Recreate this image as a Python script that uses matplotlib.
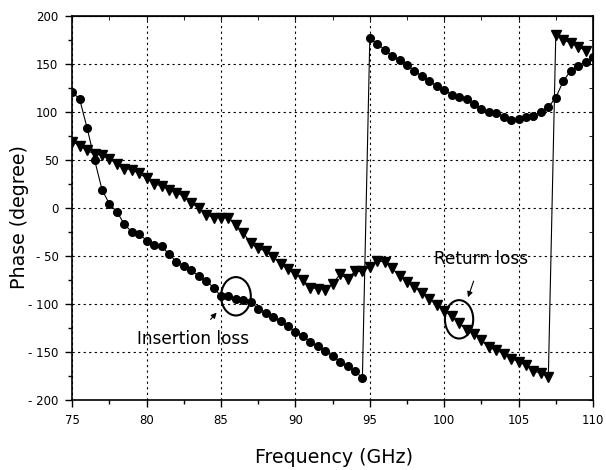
import matplotlib
matplotlib.use("Agg")
import matplotlib.pyplot as plt
import numpy as np
from matplotlib.patches import Ellipse

plt.rcParams["font.family"] = ["DejaVu Sans"]

# frequency points, 0.5 GHz step
freq = [75 + 0.5 * i for i in range(71)]

insertion_loss = [
    121, 113, 83, 50, 19, 4, -4, -17, -25, -27,
    -34, -39, -40, -48, -56, -60, -65, -71, -76, -83,
    -92, -92, -95, -96, -98, -105, -109, -114, -118, -123,
    -129, -133, -140, -144, -149, -154, -160, -165, -170, -177,
    177, 171, 165, 158, 154, 149, 143, 137, 132, 127,
    123, 118, 116, 113, 108, 103, 100, 99, 95, 92,
    93, 95, 96, 100, 105, 115, 132, 143, 148, 152,
    157,
]

# return loss has no visible point at 110 GHz
freq_rl = freq[:-1]
return_loss = [
    69, 65, 60, 56, 55, 51, 46, 41, 40, 36,
    31, 25, 23, 19, 16, 12, 5, 0, -7, -10,
    -10, -10, -18, -26, -37, -42, -45, -51, -58, -64,
    -69, -75, -83, -84, -85, -79, -69, -74, -66, -66,
    -61, -55, -56, -63, -71, -77, -82, -89, -95, -101,
    -107, -113, -120, -127, -131, -138, -145, -148, -152, -157,
    -160, -164, -170, -172, -176, 180, 175, 172, 168, 164,
]

x_ticks = [75, 80, 85, 90, 95, 100, 105, 110]
y_ticks = [-200, -150, -100, -50, 0, 50, 100, 150, 200]

fig = plt.figure(figsize=(6.06, 4.70), dpi=100)
ax = fig.add_axes([0.1193, 0.149, 0.8592, 0.817])

ax.plot(freq, insertion_loss, color="black", lw=0.8, marker="o",
        markersize=5.5, markerfacecolor="black", markeredgecolor="black")
ax.plot(freq_rl, return_loss, color="black", lw=0.8, marker="v",
        markersize=6.5, markerfacecolor="black", markeredgecolor="black")

ax.set_xlim(75, 110)
ax.set_ylim(-200, 200)
ax.set_xticks(x_ticks)
ax.set_yticks(y_ticks)
ax.set_xticks(np.arange(77.5, 110, 5), minor=True)
ax.set_yticks(np.arange(-175, 200, 50), minor=True)
ax.set_yticklabels([str(v).replace("-", "- ") for v in y_ticks])

ax.grid(True, which="major", color="black", lw=0.8, linestyle=(0, (2, 3)))
ax.tick_params(which="major", direction="out", length=5, width=1,
               labelsize=8.5, colors="black", pad=5)
ax.tick_params(which="minor", direction="out", length=3, width=1)
for s in ax.spines.values():
    s.set_linewidth(1.2)

# inward ticks on top and right
top = ax.secondary_xaxis("top")
top.set_xticks(x_ticks)
top.set_xticks(np.arange(77.5, 110, 5), minor=True)
top.tick_params(which="both", direction="in", labeltop=False, length=3)
right = ax.secondary_yaxis("right")
right.set_yticks(y_ticks)
right.set_yticks(np.arange(-175, 200, 50), minor=True)
right.tick_params(which="both", direction="in", labelright=False, length=3)

ax.set_xlabel("Frequency (GHz)", fontsize=13.7, va="center")
ax.set_ylabel("Phase (degree)", fontsize=13.7, va="center")
ax.xaxis.set_label_coords(0.502, -0.151)
ax.yaxis.set_label_coords(-0.102, 0.477)

# circled regions with labels
ax.add_patch(Ellipse((86.0, -92), 2.0, 40, fill=False, lw=1.5, color="black"))
ax.add_patch(Ellipse((101.0, -116), 1.9, 40, fill=False, lw=1.5, color="black"))

ax.annotate("Insertion loss", xy=(84.7, -109), xytext=(83.1, -137),
            fontsize=12.2, ha="center", va="center",
            arrowprops=dict(arrowstyle="-|>", color="black", lw=0.8,
                            mutation_scale=8, shrinkA=8, shrinkB=0))
ax.annotate("Return loss", xy=(101.6, -93), xytext=(102.5, -53),
            fontsize=12.2, ha="center", va="center",
            arrowprops=dict(arrowstyle="-|>", color="black", lw=0.8,
                            mutation_scale=8, shrinkA=8, shrinkB=0))

fig.savefig("out.png", dpi=100)
